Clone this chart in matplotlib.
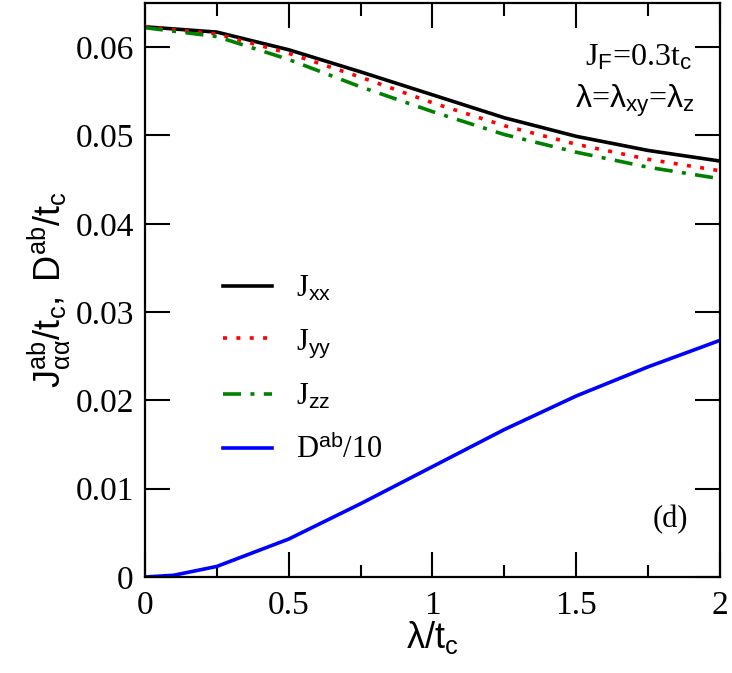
import matplotlib
matplotlib.use('Agg')
import matplotlib.pyplot as plt
from matplotlib.ticker import MultipleLocator

plt.rcParams['font.family'] = 'Liberation Serif'
plt.rcParams['mathtext.fontset'] = 'custom'
plt.rcParams['mathtext.rm'] = 'Liberation Serif'
plt.rcParams['mathtext.sf'] = 'Liberation Sans'
plt.rcParams['mathtext.it'] = 'Liberation Serif:italic'

lam = [0, 0.25, 0.5, 0.75, 1.0, 1.25, 1.5, 1.75, 2.0]
j_xx = [0.0623, 0.0617, 0.0597, 0.0572, 0.0546, 0.0520, 0.0499, 0.0483, 0.0471]
j_yy = [0.0623, 0.0615, 0.0593, 0.0566, 0.0537, 0.0511, 0.0490, 0.0473, 0.0460]
j_zz = [0.0622, 0.0612, 0.0586, 0.0555, 0.0527, 0.0501, 0.0481, 0.0464, 0.0451]
lam_d = [0, 0.1, 0.25, 0.5, 0.75, 1.0, 1.25, 1.5, 1.75, 2.0]
d_ab = [0.0, 0.0002, 0.0012, 0.0043, 0.0083, 0.0125, 0.0167, 0.0205, 0.0238, 0.0268]

fig = plt.figure(figsize=(7.32, 6.73), dpi=100)
ax = fig.add_axes([0.198, 0.1426, 0.7856, 0.853])

lw = 2.6
ax.plot(lam, j_xx, color='black', lw=lw, label=r'J$_{\mathsf{xx}}$')
ax.plot(lam, j_yy, color='red', lw=lw, linestyle=(0, (1.1, 2.6)),
        label=r'J$_{\mathsf{yy}}$')
ax.plot(lam, j_zz, color='green', lw=lw, linestyle=(0, (5, 2.6, 1.1, 2.6)),
        label=r'J$_{\mathsf{zz}}$')
ax.plot(lam_d, d_ab, color='blue', lw=lw, label=r'D$^{\mathsf{ab}}$/10')

ax.set_xlim(0, 2)
ax.set_ylim(0, 0.065)
ax.xaxis.set_major_locator(MultipleLocator(0.5))
ax.xaxis.set_minor_locator(MultipleLocator(0.25))
ax.yaxis.set_major_locator(MultipleLocator(0.01))
ax.xaxis.set_major_formatter(plt.FuncFormatter(lambda v, p: f'{v:g}'))
ax.yaxis.set_major_formatter(plt.FuncFormatter(lambda v, p: f'{v:g}' if v != 0 else '0'))
ax.tick_params(which='both', direction='in', top=True, right=True, width=1.5,
               labelsize=24)
ax.tick_params(axis='x', pad=10)
ax.tick_params(axis='y', pad=8)
ax.tick_params(which='major', length=18)
ax.tick_params(which='minor', length=9)
for s in ax.spines.values():
    s.set_linewidth(1.6)

ax.set_xlabel(r'$\mathsf{\lambda/t_c}$', fontsize=26, labelpad=-2)
ax.set_ylabel(r'$\mathsf{J_{\alpha\alpha}^{ab}/t_c,\ D^{ab}/t_c}$', fontsize=26, labelpad=2)

ax.text(0.951, 0.905, r'J$_{\mathsf{F}}$=0.3t$_{\mathsf{c}}$', transform=ax.transAxes,
        ha='right', va='center', fontsize=23)
ax.text(0.957, 0.83, r'$\mathsf{\lambda}$=$\mathsf{\lambda}_{\mathsf{xy}}$=$\mathsf{\lambda}_{\mathsf{z}}$',
        transform=ax.transAxes, ha='right', va='center', fontsize=23)
ax.text(0.945, 0.10, '(d)', transform=ax.transAxes, ha='right', va='center', fontsize=22)

ax.legend(loc='upper left', bbox_to_anchor=(0.1357, 0.527), frameon=False, fontsize=22,
          handlelength=1.6, handletextpad=0.8, labelspacing=0.75, borderpad=0,
          borderaxespad=0)

fig.savefig('out.png', dpi=100)
